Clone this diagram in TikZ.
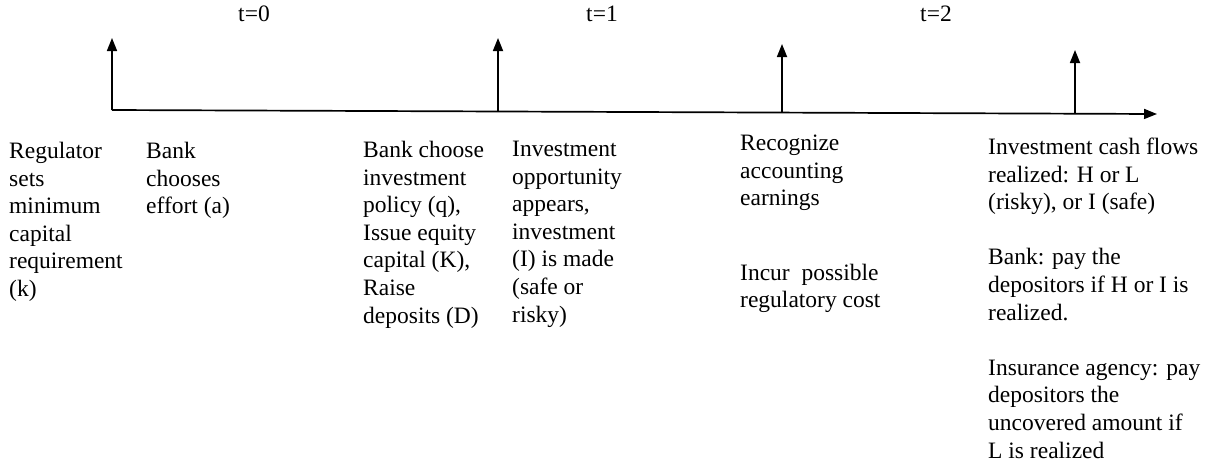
\documentclass[tikz,border=0pt]{standalone}
\usepackage{fontspec}
\setmainfont{Liberation Serif}
\usetikzlibrary{arrows.meta}
\tikzset{
  axis/.style={line width=1.7pt,-{Triangle[length=13pt,width=10pt]}},
  lbl/.style={anchor=north west,inner sep=0pt,align=left,font=\fontsize{23.5}{27.6}\selectfont},
  tlbl/.style={anchor=base,inner sep=0pt,font=\fontsize{23.5}{27.6}\selectfont}
}
\begin{document}
\begin{tikzpicture}[x=1pt,y=-1pt]
\useasboundingbox (0,0) rectangle (1212,467);
% timeline
\coordinate (o) at (112,110);
\coordinate (e) at (1157,114);
\coordinate (b1) at (498,111.5);
\coordinate (b2) at (782,112.6);
\coordinate (b3) at (1075,113.7);
\coordinate (t0) at (112,38);
\coordinate (t1) at (498,38);
\coordinate (t2) at (782,44);
\coordinate (t3) at (1075,50);
\draw[axis] (o) -- (e);
\draw[axis] (o) -- (t0);
\draw[axis] (b1) -- (t1);
\draw[axis] (b2) -- (t2);
\draw[axis] (b3) -- (t3);
% time labels
\node[tlbl] (l0) at (254,21) {t=0};
\node[tlbl] (l1) at (602,21) {t=1};
\node[tlbl] (l2) at (936,21) {t=2};
% text blocks
\node[lbl] (c1) at (9,139) {\strut Regulator\\sets\\minimum\\capital\\requirement\\(k)};
\node[lbl] (c2) at (146,139) {\strut Bank\\chooses\\effort (a)};
\node[lbl] (c3) at (363,138) {\strut Bank choose\\investment\\policy (q),\\Issue equity\\capital (K),\\Raise\\deposits (D)};
\node[lbl] (c4) at (512,137) {\strut Investment\\opportunity\\appears,\\investment\\(I) is made\\(safe or\\risky)};
\node[lbl] (c5) at (740,131) {\strut Recognize\\accounting\\earnings\\[47pt]Incur\ \ possible\\regulatory cost};
\node[lbl] (c6) at (988,135) {\strut Investment cash flows\\realized: H or L\\(risky), or I (safe)\\[27.6pt]Bank: pay the\\depositors if H or I is\\realized.\\[27.6pt]Insurance agency: pay\\depositors the\\uncovered amount if\\L is realized};
\end{tikzpicture}
\end{document}
